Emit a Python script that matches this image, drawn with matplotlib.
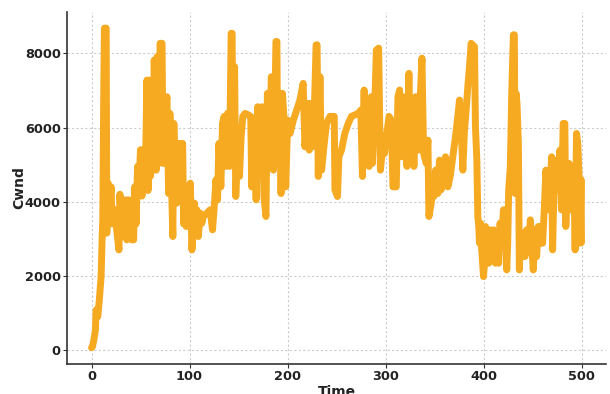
import matplotlib
matplotlib.use("Agg")
import matplotlib.pyplot as plt

time = [0, 1, 2.4, 4, 4.7, 6.4, 8, 9.8, 10.9, 11.5, 12.5, 13.2, 15, 15.6, 17, 17.6, 20, 21,
        22.7, 25, 28, 29, 30, 31, 32, 34, 35, 36, 38, 40, 41, 43, 44, 45.5, 47, 48, 50, 51.5,
        53, 55, 56.6, 57.7, 59, 60, 62, 63, 64, 66, 67, 68.5, 70, 72, 73, 75, 77, 78.7, 80, 81,
        83, 84, 85.5, 87, 89, 90.5, 91.5, 93, 94, 95.7, 96.7, 98, 99, 100.8, 102.5, 103.5, 105,
        106, 107.6, 109, 111, 112.6, 114, 117.7, 121, 123.5, 125.5, 127, 128.6, 130, 132, 133.7,
        135.4, 137, 138.8, 140.8, 142.5, 143.5, 144.2, 146, 147.2, 149, 151, 152.7, 154.4, 156.7,
        160, 162.5, 163.5, 166, 168, 169.6, 172, 174, 176, 178, 179.5, 181.5, 183.5, 185.6, 187.3,
        188.2, 189.2, 190, 191.4, 192.7, 193.4, 194.8, 196.8, 198.2, 200.2, 202.6, 206, 209.4,
        212.7, 216, 217.8, 220.5, 222.2, 224, 225.3, 227.3, 229.2, 230.2, 231.4, 233.1, 234.8,
        237.5, 239.9, 243.3, 247.7, 248.4, 251, 252.4, 255.1, 258.5, 262, 265.3, 268.7, 272.1,
        274.8, 276.5, 278.2, 279.5, 281.6, 283.3, 285.5, 286.6, 289, 290.7, 293, 294.8, 297.5,
        299, 300.9, 303.6, 306, 307.6, 311, 312.7, 314.4, 316.1, 317.8, 319.5, 321.9, 323.9,
        325.3, 327.3, 329, 330.7, 333.1, 337.2, 338.9, 341.6, 343.3, 344.3, 346.7, 348.4, 349.4,
        351.1, 353.4, 355.1, 356.8, 358.5, 361.2, 363.6, 366, 368.7, 371.4, 373.8, 375.5, 377.2,
        378.9, 380.6, 382.3, 384, 385.7, 387.4, 390.8, 391.8, 393.2, 394.2, 395.2, 395.9, 396.9,
        398.2, 400, 401, 402, 403, 404.3, 405.4, 407, 408.8, 410.5, 412.2, 413.8, 415.5, 416.9,
        418.6, 420.3, 422, 423.7, 424.7, 425.7, 427.4, 428.8, 430.5, 431.5, 432.2, 433.2, 434.2,
        435.6, 436.6, 437.6, 439, 440.6, 442.3, 444, 445.7, 447.8, 449.1, 450.8, 452.5, 454.2,
        455.9, 457.6, 458.6, 460.3, 462, 463.7, 465.4, 467, 469.5, 470.5, 472.2, 474.5, 476.2,
        478, 479.6, 481.3, 483, 484, 485.7, 487.4, 489.1, 490.8, 492.5, 493.5, 494.9, 496.2,
        497.6, 498.6, 499.5, 500]

cwnd = [60, 90, 270, 540, 1080, 900, 1350, 1980, 3060, 3500, 7000, 8680, 8680, 3150, 4500, 3400, 4400, 3400,
        3800, 3400, 2700, 4200, 3700, 3050, 4050, 3250, 4050, 2970, 4050, 3400, 2970, 2970, 4400, 3400, 4950, 4150, 5400, 4150,
        5400, 4850, 7280, 4300, 7280, 4680, 6650, 4850, 7820, 4850, 7910, 5030, 8270, 8270, 5030, 6300, 6830, 4220, 6380, 5120,
        3060, 6110, 4680, 3960, 5570, 4680, 5570, 5570, 3400, 4140, 3330, 4400, 4140, 4500, 2700, 3240, 3960,
        3240, 3780, 3060, 3690, 3420, 3600, 3690, 3780, 3240, 3960, 4590, 4050, 5570, 4400, 6110,
        6300, 4950, 6380, 4950, 8540, 8540, 5120, 7640, 4140, 5390, 4680, 5750, 6300, 6380,
        6340, 6300, 4400, 6200, 4050, 6560, 4680, 6560, 4140, 3600, 6920, 5210, 7370, 4850, 6830,
        8320, 8320, 5030, 6560, 5750, 4220, 6920, 6110, 4400, 6200, 5840, 6200, 6470,
        6740, 7190, 5480, 6650, 5390, 6650, 5480, 6380, 8230, 8230, 4680, 7370, 4850,
        5570, 6110, 6300, 6300, 4320, 4140, 5210, 5390, 5840, 6110, 6300, 6340, 6380,
        6470, 4680, 7010, 5030, 6470, 4950, 6830, 5030, 6560, 8090, 8140, 4850, 5570,
        5300, 5750, 6300, 6200, 4400, 4400, 6830, 7010, 5210, 6830, 6470, 4950, 7460,
        5030, 6470, 4950, 6830, 5390, 7870, 5300, 5030, 5660, 3600, 3960, 4680, 4140,
        4850, 4220, 5120, 4320, 4500, 5210, 4400, 4680, 5210, 5750, 6300, 6740, 6020,
        4850, 5930, 6470, 7100, 7640, 8270, 8180, 6020, 5120, 3600, 3330, 2880, 3420,
        2700, 1980, 2340, 3330, 2520, 3060, 2340, 3240, 2700, 3240, 2340, 2970, 2340, 3420,
        2880, 3780, 3780, 2160, 2880, 4320, 4950, 6920, 8500, 8500, 4220, 6920, 6650,
        5570, 2160, 3060, 2520, 3150, 2520, 3240, 2700, 3510, 2880, 2160, 3240, 2520,
        3330, 2880, 3330, 2880, 3780, 4850, 4140, 3780, 5210, 2700, 4680, 5120, 4320,
        5390, 3780, 6110, 6110, 3330, 4680, 5030, 3780, 4850, 4220, 2700, 5840, 5570,
        4590, 2880, 4600, 2900]

x_ticks = [0, 100, 200, 300, 400, 500]
y_ticks = [0, 2000, 4000, 6000, 8000]

fig = plt.figure(figsize=(6.10, 3.94), dpi=100)
ax = fig.add_axes([67 / 610, 30 / 394, 539 / 610, 352 / 394])

ax.plot(time, cwnd, color="#F6AA22", linewidth=5, solid_capstyle="round",
        solid_joinstyle="round")

ax.set_xlim(-25, 525)
ax.set_ylim(-378, 9115)
ax.set_xticks(x_ticks)
ax.set_yticks(y_ticks)

ax.grid(True, color="#cccccc", linestyle=(0, (2, 2)), linewidth=0.8)
ax.set_axisbelow(True)
for s in ["top", "right"]:
    ax.spines[s].set_visible(False)
for s in ["left", "bottom"]:
    ax.spines[s].set_color("#333333")
    ax.spines[s].set_linewidth(1.2)

ax.tick_params(axis="both", length=3, width=0.8, color="#333333", pad=1.5)
for lab in ax.get_xticklabels() + ax.get_yticklabels():
    lab.set_fontweight("bold")
    lab.set_fontsize(9.3)
    lab.set_color("#222222")

ax.set_xlabel("Time", fontsize=10, fontweight="bold", color="#222222")
ax.set_ylabel("Cwnd", fontsize=10, fontweight="bold", color="#222222")
ax.xaxis.set_label_coords(0.5, -0.060)
ax.yaxis.set_label_coords(-0.075, 0.5)

fig.savefig("out.png", dpi=100)
